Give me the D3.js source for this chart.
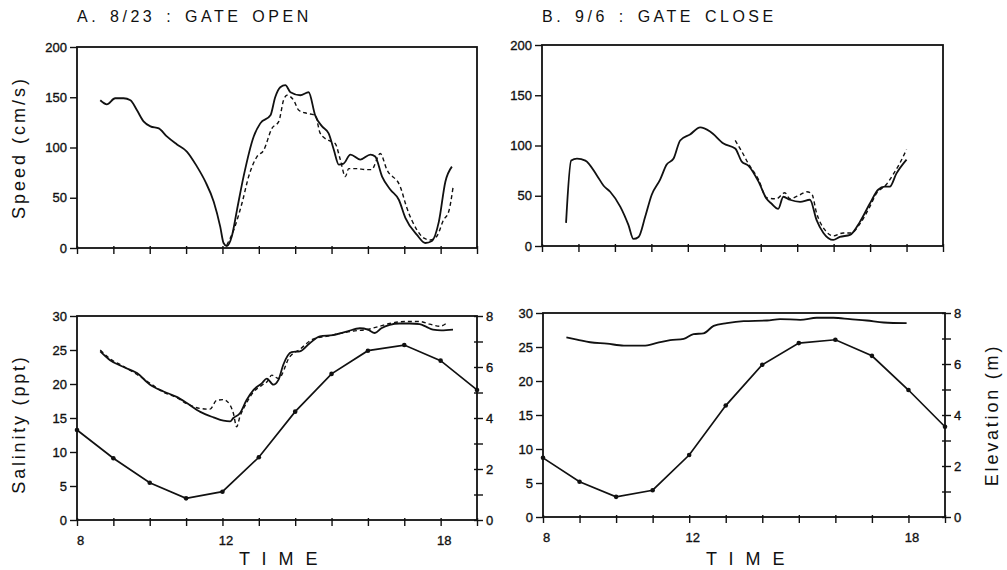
<!DOCTYPE html>
<html><head><meta charset="utf-8">
<script src="https://cdn.jsdelivr.net/npm/d3@7"></script>
<style>
body{margin:0;background:#fff}
svg{display:block}
text{font-family:"Liberation Sans",Arial,sans-serif;fill:#111}
</style>
</head><body>
<svg id="chart" width="1007" height="570"></svg>
<script>
// ---------------- DATA ----------------
const panelTitles = ["A. 8/23 : GATE OPEN", "B. 9/6 : GATE CLOSE"];
const timeTicks = [8,9,10,11,12,13,14,15,16,17,18,19];
const timeLabels = [8,12,18];
const speedTicks = [0,50,100,150,200];
const salinityTicks = [0,5,10,15,20,25,30];
const elevationTicks = [0,1,2,3,4,5,6,7,8];
const elevationLabels = [0,2,4,6,8];
const axisTitles = {speed:"Speed (cm/s)", salinity:"Salinity (ppt)", elevation:"Elevation (m)", time:"T I M E"};

// A: 8/23 gate open — speed (cm/s)
const speedA_solid = [[8.64,147],[8.82,143],[9.05,149],[9.28,149],[9.47,147],[9.65,137],[9.83,126],[10.02,121],[10.25,119],[10.47,111],[10.75,103],[11.02,96],[11.3,81],[11.53,66],[11.76,46],[11.94,21],[12.03,5],[12.12,2],[12.26,12],[12.4,38],[12.58,71],[12.86,111],[13.04,124],[13.32,132],[13.45,150],[13.59,160],[13.73,162],[13.87,155],[14.14,152],[14.37,155],[14.55,132],[14.74,121],[14.92,114],[15.06,98],[15.2,83],[15.33,84],[15.52,93],[15.79,88],[16.07,93],[16.2,91],[16.39,71],[16.62,58],[16.85,48],[17.03,30],[17.35,13],[17.58,5],[17.76,7],[17.95,26],[18.13,66],[18.31,81]];
const speedA_dashed = [[12.12,3],[12.31,18],[12.54,45],[12.72,71],[12.95,91],[13.13,97],[13.36,119],[13.55,126],[13.68,147],[13.77,152],[13.96,147],[14.1,137],[14.32,134],[14.55,132],[14.69,114],[14.92,107],[15.1,104],[15.24,88],[15.38,71],[15.47,79],[15.7,79],[15.93,78],[16.1,78],[16.34,94],[16.52,78],[16.89,61],[17.07,40],[17.35,18],[17.53,10],[17.72,8],[17.9,12],[18.08,28],[18.22,36],[18.34,60]];

// B: 9/6 gate close — speed (cm/s)
const speedB_solid = [[8.66,23],[8.8,85],[8.96,87],[9.19,85],[9.51,70],[9.69,60],[9.87,54],[10.15,39],[10.37,21],[10.51,7],[10.65,9],[10.83,29],[11.01,51],[11.24,66],[11.42,81],[11.61,87],[11.79,105],[12.06,111],[12.34,118],[12.61,114],[12.98,102],[13.3,97],[13.48,84],[13.66,80],[13.94,64],[14.16,47],[14.3,42],[14.48,37],[14.62,49],[14.8,46],[15.08,44],[15.35,46],[15.53,26],[15.72,13],[15.99,6],[16.17,9],[16.45,11],[16.72,24],[16.99,42],[17.22,56],[17.4,59],[17.54,59],[17.72,72],[18.0,86]];
const speedB_dashed = [[13.3,105],[13.48,94],[13.66,82],[13.94,66],[14.16,48],[14.43,47],[14.66,53],[14.8,47],[15.08,51],[15.26,54],[15.4,52],[15.53,33],[15.76,16],[15.99,10],[16.26,13],[16.49,13],[16.72,22],[16.99,39],[17.17,52],[17.44,61],[17.63,71],[17.81,82],[18.0,96]];

// A: salinity (ppt)
const salinityA_solid = [[8.64,24.8],[8.91,23.5],[9.28,22.5],[9.65,21.6],[10.01,19.9],[10.38,18.9],[10.74,18.1],[11.02,17.2],[11.39,15.9],[11.75,15.1],[12.03,14.6],[12.21,14.5],[12.3,15.0],[12.48,15.7],[12.66,17.6],[12.85,19.1],[13.08,20.1],[13.22,20.8],[13.4,19.9],[13.54,20.6],[13.67,22.8],[13.9,24.7],[14.13,24.8],[14.4,26.0],[14.68,27.0],[15.04,27.2],[15.41,27.7],[15.78,28.2],[16.0,28.0],[16.19,27.5],[16.37,28.2],[16.6,28.7],[16.87,28.9],[17.15,28.9],[17.42,28.8],[17.61,28.4],[17.79,28.0],[18.02,27.9],[18.34,28.0]];
const salinityA_dashed = [[8.64,25.0],[8.91,23.7],[9.28,22.6],[9.65,21.4],[10.01,20.1],[10.38,18.8],[10.74,18.0],[11.02,17.1],[11.39,16.4],[11.66,16.3],[11.84,17.6],[12.03,17.7],[12.21,16.9],[12.3,15.7],[12.39,13.7],[12.48,15.2],[12.66,17.2],[12.85,18.8],[13.08,19.8],[13.22,20.3],[13.36,21.3],[13.54,20.8],[13.85,24.0],[14.13,25.1],[14.49,26.6],[14.86,27.0],[15.2,27.4],[15.6,27.8],[15.96,28.0],[16.33,28.5],[16.6,28.9],[17.06,29.2],[17.42,29.2],[17.7,28.8],[17.98,28.5],[18.2,29.1]];

// B: salinity (ppt)
const salinityB_solid = [[8.64,26.4],[8.93,26.1],[9.29,25.7],[9.75,25.5],[10.21,25.2],[10.75,25.2],[11.12,25.6],[11.48,26.0],[11.85,26.2],[12.12,26.9],[12.39,27.0],[12.67,28.1],[13.03,28.5],[13.49,28.8],[14.13,28.9],[14.49,29.1],[15.04,29.0],[15.49,29.3],[15.95,29.3],[16.4,29.1],[16.86,28.9],[17.32,28.6],[17.95,28.5]];

// Elevation (m) at hourly marks
const elevationHours = [8,9,10,11,12,13,14,15,16,17,18,19];
const elevationA = [3.53,2.42,1.46,0.85,1.11,2.46,4.25,5.73,6.64,6.86,6.25,5.10];
const elevationB = [2.32,1.38,0.79,1.05,2.43,4.37,5.97,6.82,6.95,6.32,4.98,3.54];

// ---------------- DRAWING ----------------
const svg = d3.select("#chart");
const ink = "#111";

const panels = [
  {kind:"speed", left:77,  right:477, top:47,  bottom:248, solid:speedA_solid, dashed:speedA_dashed, title:panelTitles[0], yTitle:true},
  {kind:"speed", left:542, right:943, top:45,  bottom:246, solid:speedB_solid, dashed:speedB_dashed, title:panelTitles[1], yTitle:false},
  {kind:"sal",   left:77,  right:477, top:316, bottom:520, solid:salinityA_solid, dashed:salinityA_dashed, elev:elevationA, yTitle:true, rTitle:false},
  {kind:"sal",   left:543, right:945, top:313, bottom:517, solid:salinityB_solid, dashed:null, elev:elevationB, yTitle:false, rTitle:true}
];

function styleAxis(g){
  g.select(".domain").remove();
  g.selectAll(".tick line").attr("stroke", ink).attr("stroke-width", 1.4);
  g.selectAll(".tick text").attr("font-size", 13).attr("fill", ink)
    .attr("stroke", ink).attr("stroke-width", 0.35)
    .attr("font-family", '"Liberation Sans",Arial,sans-serif');
}

panels.forEach(p => {
  const g = svg.append("g");
  const x = d3.scaleLinear().domain([8,19]).range([p.left, p.right]);
  const y = p.kind === "speed"
    ? d3.scaleLinear().domain([0,200]).range([p.bottom, p.top])
    : d3.scaleLinear().domain([0,30]).range([p.bottom, p.top]);

  // frame
  g.append("rect").attr("x", p.left).attr("y", p.top)
    .attr("width", p.right - p.left).attr("height", p.bottom - p.top)
    .attr("fill", "none").attr("stroke", ink).attr("stroke-width", 1.8);

  // x axis
  const xa = g.append("g").attr("transform", `translate(0,${p.bottom})`)
    .call(d3.axisBottom(x).tickValues(timeTicks).tickSize(6).tickPadding(10)
      .tickFormat(d => (p.kind === "sal" && timeLabels.includes(d)) ? d : ""));
  styleAxis(xa);
  xa.selectAll(".tick line").attr("y1", -2);
  xa.selectAll(".tick text").attr("dx", 3);

  // left axis
  const ya = g.append("g").attr("transform", `translate(${p.left},0)`)
    .call(d3.axisLeft(y).tickValues(p.kind === "speed" ? speedTicks : salinityTicks)
      .tickSize(7).tickPadding(3));
  styleAxis(ya);

  const line = d3.line().x(d => x(d[0])).y(d => y(d[1])).curve(d3.curveMonotoneX);

  if (p.kind === "sal") {
    const ye = d3.scaleLinear().domain([0,8]).range([p.bottom, p.top]);
    const ra = g.append("g").attr("transform", `translate(${p.right},0)`)
      .call(d3.axisRight(ye).tickValues(elevationTicks).tickSize(6).tickPadding(3)
        .tickFormat(d => elevationLabels.includes(d) ? d : ""));
    styleAxis(ra);
    ra.selectAll(".tick line").attr("x1", -3);

    const ePts = elevationHours.map((h,i) => [h, p.elev[i]]);
    const eLine = d3.line().x(d => x(d[0])).y(d => ye(d[1]));
    g.append("path").attr("d", eLine(ePts)).attr("fill","none")
      .attr("stroke", ink).attr("stroke-width", 1.7);
    g.selectAll("circle.m").data(ePts).join("circle")
      .attr("cx", d => x(d[0])).attr("cy", d => ye(d[1])).attr("r", 2.3).attr("fill", ink);

    g.append("text").attr("x", (p.left + p.right)/2 + 3).attr("y", 565)
      .attr("text-anchor","middle").attr("font-size", 18).style("letter-spacing","3.5px")
      .text(axisTitles.time);

    if (p.rTitle) {
      g.append("text").attr("transform", `translate(${p.right + 53},${(p.top+p.bottom)/2}) rotate(-90)`)
        .attr("text-anchor","middle").attr("font-size", 18).style("letter-spacing","2.8px")
        .text(axisTitles.elevation);
    }
    if (p.yTitle) {
      g.append("text").attr("transform", `translate(25,${(p.top+p.bottom)/2 + 6}) rotate(-90)`)
        .attr("text-anchor","middle").attr("font-size", 18).style("letter-spacing","2.8px")
        .text(axisTitles.salinity);
    }
  } else {
    g.append("text").attr("x", p.left).attr("y", 22)
      .attr("font-size", 16).style("letter-spacing","3.5px").style("word-spacing","3px")
      .text(p.title);
    if (p.yTitle) {
      g.append("text").attr("transform", `translate(25,${(p.top+p.bottom)/2}) rotate(-90)`)
        .attr("text-anchor","middle").attr("font-size", 18).style("letter-spacing","3px")
        .text(axisTitles.speed);
    }
  }

  g.append("path").attr("d", line(p.solid)).attr("fill","none")
    .attr("stroke", ink).attr("stroke-width", 1.8).attr("stroke-linejoin","round");
  if (p.dashed) {
    g.append("path").attr("d", line(p.dashed)).attr("fill","none")
      .attr("stroke", ink).attr("stroke-width", 1.4).attr("stroke-dasharray","4,3");
  }
});
</script>
</body></html>
